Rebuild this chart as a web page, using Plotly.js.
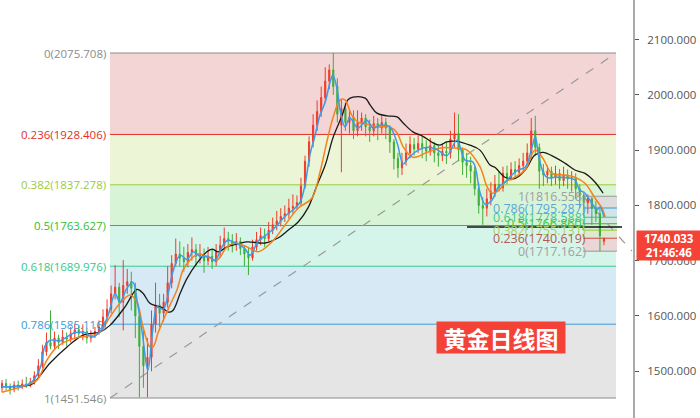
<!DOCTYPE html>
<html><head><meta charset="utf-8">
<script src="https://cdn.plot.ly/plotly-3.0.1.min.js"></script>
<style>html,body{margin:0;padding:0;background:#fff;}#chart{width:700px;height:418px;}</style>
</head><body><div id="chart"></div>
<script>
// ---------- DATA ----------
const openP = [1470,1478,1472,1468,1475,1471,1477,1474,1480,1492,1510,1535,1552,1545,1560,1552,1562,1558,1568,1575,
1568,1572,1560,1565,1572,1580,1598,1612,1640,1652,1625,1655,1662,1650,1600,1545,1510,1525,1585,1620,
1605,1625,1660,1695,1712,1705,1698,1715,1720,1708,1712,1700,1708,1698,1715,1728,1740,1735,1728,1735,
1722,1712,1705,1725,1738,1745,1740,1755,1765,1772,1780,1785,1795,1798,1805,1835,1880,1915,1945,1970,
1995,2025,2045,2015,1945,1975,1950,1960,1935,1950,1958,1942,1935,1948,1940,1950,1940,1915,1885,1868,
1880,1895,1910,1902,1912,1905,1898,1908,1895,1890,1898,1895,1920,1930,1900,1878,1872,1862,1830,1800,
1795,1812,1825,1838,1832,1858,1850,1865,1860,1872,1880,1895,1935,1905,1862,1855,1862,1850,1858,1845,
1855,1848,1850,1830,1818,1805,1812,1795,1785,1735];
const highP = [1484,1486,1478,1482,1483,1485,1490,1488,1500,1522,1548,1570,1610,1572,1566,1575,1570,1580,1586,1582,
1585,1578,1574,1580,1592,1612,1630,1655,1692,1660,1701,1685,1680,1660,1612,1580,1560,1610,1660,1640,
1640,1690,1710,1740,1735,1725,1730,1742,1730,1730,1722,1725,1720,1730,1745,1760,1752,1748,1750,1742,
1728,1725,1738,1752,1760,1758,1770,1778,1790,1795,1800,1812,1820,1818,1850,1890,1925,1965,1990,2015,
2050,2055,2075.708,2030,1992,1985,1975,1972,1972,1968,1965,1955,1962,1958,1962,1958,1945,1920,1895,1895,
1912,1925,1922,1930,1925,1918,1922,1915,1908,1912,1915,1935,1968,1965,1905,1895,1888,1870,1840,1815,
1830,1842,1855,1862,1870,1872,1878,1880,1885,1895,1912,1958,1962,1912,1875,1872,1870,1872,1866,1870,
1865,1862,1858,1838,1825,1820,1815,1808,1795,1742];
const lowP = [1462,1466,1458,1462,1465,1468,1470,1471,1476,1488,1505,1528,1540,1538,1540,1548,1545,1552,1560,1560,
1556,1550,1552,1560,1566,1575,1590,1605,1630,1598,1574,1640,1610,1560,1453,1470,1453,1500,1570,1580,
1590,1615,1650,1690,1690,1680,1688,1700,1690,1695,1678,1692,1685,1690,1705,1720,1718,1715,1718,1710,
1690,1674,1700,1718,1728,1725,1735,1748,1755,1762,1770,1776,1785,1792,1800,1830,1870,1905,1935,1960,
1985,2010,2000,1950,1860,1935,1930,1920,1925,1935,1925,1915,1925,1918,1930,1920,1895,1865,1850,1855,
1872,1885,1890,1895,1885,1880,1890,1878,1870,1880,1875,1885,1905,1880,1855,1850,1840,1818,1785,1765,
1780,1800,1815,1825,1825,1838,1845,1848,1852,1862,1870,1885,1890,1830,1835,1840,1835,1838,1830,1835,
1830,1825,1812,1795,1780,1785,1765,1770,1717.162,1728];
const closeP = [1478,1472,1468,1475,1471,1477,1474,1480,1492,1510,1535,1552,1545,1560,1552,1562,1558,1568,1575,1568,
1572,1560,1565,1572,1580,1598,1612,1640,1652,1625,1655,1662,1650,1600,1545,1510,1525,1585,1620,1605,
1625,1660,1695,1712,1705,1698,1715,1720,1708,1712,1700,1708,1698,1715,1728,1740,1735,1728,1735,1722,
1712,1705,1725,1738,1745,1740,1755,1765,1772,1780,1785,1795,1798,1805,1835,1880,1915,1945,1970,1995,
2025,2045,2015,1965,1975,1950,1960,1935,1950,1958,1942,1935,1948,1940,1950,1940,1915,1885,1868,1880,
1895,1910,1902,1912,1905,1898,1908,1895,1890,1898,1895,1920,1930,1900,1878,1872,1862,1830,1800,1795,
1812,1825,1838,1832,1858,1850,1865,1860,1872,1880,1895,1935,1905,1862,1855,1862,1850,1858,1845,1855,
1848,1850,1830,1818,1805,1812,1795,1785,1745,1740.033];

// moving averages (x in candle index units)
const ma5X = [0,6.9,9.4,10.6,11.9,14.4,15.6,18.1,20.5,22.3,24.3,26.2,28,29.2,30.9,32.4,33.4,34.7,36.1,37.4,38.4,39.9,40.8,42.3,44.1,45.8,47.3,49,51.5,52.7,54.5,55.9,58.4,60.1,61.4,63.4,65.1,67.6,70,72.5,73.8,75,76.2,77.5,78.7,80,81.2,81.9,82.9,83.7,84.9,86.1,88.1,90.3,91.8,93.6,96,97.8,99.3,100.5,103,105.4,107.9,110.1,112.6,114.6,116.6,118.3,119.6,121.3,122.8,124.5,126.2,127.7,129.5,131.2,132,132.7,134,135.1,136.9,140.1,141.8,143,144.3,146,147.3,148,149];
const ma5Y = [1472,1478,1505,1545,1556,1555,1560,1570,1570,1562,1572,1600,1640,1625,1650,1661,1629,1570,1502,1580,1616,1612,1629,1680,1710,1702,1716,1708,1706,1700,1725,1737,1730,1722,1710,1735,1745,1760,1780,1795,1806,1837,1891,1927,1963,1987,2023,2036,2012,1972,1942,1958,1940,1954,1940,1945,1942,1913,1875,1885,1900,1905,1900,1890,1918,1882,1878,1824,1802,1810,1833,1842,1855,1864,1869,1906,1924,1895,1859,1850,1851,1850,1846,1828,1822,1804,1792,1797,1779];
const ma10X = [0,2,6.2,8.7,11.1,13.6,16.1,19.3,21.8,24.3,26.7,29.2,31.7,33.4,34.9,36.6,37.4,38.6,39.9,41.6,43.3,44.8,46.5,48.5,50.7,53.2,55.7,57.7,60.6,63.4,66.8,70,73.3,76.7,78.7,80.4,81.9,83.7,84.9,86.6,88.6,90.6,92.8,96,97.8,99.3,101.7,105.2,108.4,111.6,115.1,118.3,120,121.3,123.3,124.5,127,129.5,131.9,133.9,136.1,139.4,141.8,144.3,146.8,148.5,149.3];
const ma10Y = [1462,1466,1475,1484,1520,1544,1555,1562,1564,1571,1598,1623,1638,1625,1580,1544,1544,1569,1592,1620,1647,1683,1701,1712,1708,1701,1725,1732,1725,1716,1734,1764,1795,1813,1860,1915,1958,1991,1991,1963,1949,1947,1942,1942,1931,1906,1887,1896,1904,1904,1900,1870,1835,1822,1830,1842,1851,1864,1900,1885,1858,1855,1851,1840,1813,1795,1779];
const ma30X = [0,6.2,7.7,11.9,16.1,20,24.3,26.7,30.4,33.4,34.9,36.6,38.4,39.9,41.1,42.3,44.1,45.8,48.3,50.7,52,53.5,55.7,57.2,60.6,65.1,68.3,70.8,73.3,75.7,78,80,81.9,84.2,85.6,86.9,89.9,91.1,92.8,95.3,97.8,99.3,101.7,104.2,106.7,108.4,110.1,112.6,115.8,118.3,120.8,122,124.5,127,129.5,131.9,133.9,136.9,139.4,141.8,144.3,146.8,148.8];
const ma30Y = [1472,1474,1478,1515,1544,1565,1571,1583,1616,1648,1641,1623,1618,1614,1607,1610,1641,1668,1696,1716,1721,1716,1725,1728,1734,1732,1741,1755,1770,1795,1837,1873,1922,1963,1991,1996,1994,1982,1967,1962,1960,1949,1933,1925,1913,1909,1915,1916,1909,1900,1873,1869,1851,1849,1864,1891,1896,1887,1876,1864,1858,1842,1822];

// Fibonacci retracements
const fibRatios = [0, 0.236, 0.382, 0.5, 0.618, 0.786, 1];
const fibPrices = [2075.708, 1928.406, 1837.278, 1763.627, 1689.976, 1585.116, 1451.546];
const smallFibRatios = [1, 0.786, 0.618, 0.5, 0.382, 0.236, 0];
const smallFibPrices = [1816.558, 1795.287, 1778.588, 1766.860, 1755.131, 1740.619, 1717.162];
const supportLevel = 1761;
const yTicks = [1500, 1600, 1700, 1800, 1900, 2000, 2100];
const lastPrice = 1740.033;
const lastTime = '21:46:46';
const chartTitle = '黄金日线图';

// ---------- STYLE / LAYOUT ----------
const W = 700, H = 418, MR = 66, PW = W - MR;
const P = v => v / PW; // pixel -> paper x
const lineColors = ['#8c8c8c', '#e0302a', '#9bcb3c', '#2fbf2f', '#33c98c', '#3a9ad8', '#8c8c8c'];
const bandColors = ['#f3d5d5', '#ecf5d6', '#d8f4d6', '#d6f5ea', '#d6e9f4', '#e5e5e5'];
const smallLineColors = ['#9a9a9a', '#3a9ad8', '#33c98c', '#2fbf2f', '#9bcb3c', '#d04a40', '#9a9a9a'];
const smallTextColors = ['#a0a0a0', '#5aa8dc', '#45c893', '#45c445', '#a9cf62', '#b45a55', '#a0a0a0'];
const smallBand = ['#dcdcdc', '#d2e3ea', '#d0e8dd', '#d5ead2', '#e0e8cf', '#ead6d6'];

const idx = closeP.map((_, i) => i);
const shapes = [];
const annotations = [];
const fx0 = P(110), fx1 = P(616);
for (let k = 0; k < fibPrices.length - 1; k++) {
  shapes.push({type:'rect', xref:'paper', yref:'y', x0:fx0, x1:fx1, y0:fibPrices[k+1], y1:fibPrices[k],
    fillcolor: bandColors[k], line:{width:0}, layer:'below'});
}
fibPrices.forEach((p, k) => {
  shapes.push({type:'line', xref:'paper', yref:'y', x0:fx0, x1:fx1, y0:p, y1:p,
    line:{color:lineColors[k], width:1}, layer:'below'});
  annotations.push({xref:'paper', yref:'y', x:P(108), y:p, xanchor:'right', yanchor:'middle',
    text: fibRatios[k] + '(' + p.toFixed(3) + ')', showarrow:false,
    font:{family:'Open Sans, sans-serif', size:11.5, color:lineColors[k]}});
});
shapes.push({type:'line', xref:'paper', yref:'y', x0:fx0, x1:fx1, y0:fibPrices[6], y1:fibPrices[0],
  line:{color:'#9a9a9a', width:1.2, dash:'dash'}, layer:'below'});

// small fib
const sx0 = P(583), sx1 = P(617);
for (let k = 0; k < smallFibPrices.length - 1; k++) {
  shapes.push({type:'rect', xref:'paper', yref:'y', x0:sx0, x1:sx1, y0:smallFibPrices[k+1], y1:smallFibPrices[k],
    fillcolor: smallBand[k], line:{width:0}, layer:'below'});
}
smallFibPrices.forEach((p, k) => {
  shapes.push({type:'line', xref:'paper', yref:'y', x0:sx0, x1:sx1, y0:p, y1:p,
    line:{color:smallLineColors[k], width:1}, layer:'below'});
  annotations.push({xref:'paper', yref:'y', x:P(588), y:p, xanchor:'right', yanchor:'middle',
    text: smallFibRatios[k] + '(' + p.toFixed(3) + ')', showarrow:false,
    font:{family:'Open Sans, sans-serif', size:12.5, color:smallTextColors[k]}});
});
shapes.push({type:'line', xref:'paper', yref:'y', x0:sx0, x1:P(632), y0:smallFibPrices[0], y1:smallFibPrices[6],
  line:{color:'#9a9a9a', width:1.2, dash:'dash'}, layer:'below'});
shapes.push({type:'line', xref:'paper', yref:'y', x0:P(467), x1:P(622), y0:supportLevel, y1:supportLevel,
  line:{color:'#111', width:1.5}, layer:'above'});
shapes.push({type:'line', xref:'paper', yref:'paper', x0:1, x1:1, y0:0, y1:1,
  line:{color:'#555', width:1}});

annotations.push({xref:'paper', yref:'y', x:P(636), y:lastPrice, xanchor:'left', yanchor:'middle', yshift:-7,
  text: lastPrice.toFixed(3) + '<br>' + lastTime, showarrow:false, align:'center',
  width:60, height:25, borderpad:2, bgcolor:'#f44336',
  font:{family:'Open Sans, sans-serif', size:11.5, color:'#fff', weight:'bold'}});
annotations.push({xref:'paper', yref:'paper', x:P(501), y:1 - 337.5/H, xanchor:'center', yanchor:'middle',
  text: chartTitle, showarrow:false, width:124, height:27, borderpad:2, bgcolor:'#f44336',
  font:{family:'Noto Sans CJK SC, sans-serif', size:23, color:'#fff', weight:'bold'}});

const traces = [
  {type:'candlestick', x:idx, open:openP, high:highP, low:lowP, close:closeP,
   increasing:{line:{color:'#f23a2a', width:1}, fillcolor:'#f23a2a'},
   decreasing:{line:{color:'#3fae3a', width:1}, fillcolor:'#3fae3a'},
   whiskerwidth:0, hoverinfo:'skip'},
  {type:'scatter', mode:'lines', x:ma30X, y:ma30Y, line:{color:'#1a1a1a', width:1.3, shape:'spline'}, hoverinfo:'skip'},
  {type:'scatter', mode:'lines', x:ma10X, y:ma10Y, line:{color:'#f5811f', width:1.5, shape:'spline'}, hoverinfo:'skip'},
  {type:'scatter', mode:'lines', x:ma5X, y:ma5Y, line:{color:'#3d9be9', width:1.5, shape:'spline'}, hoverinfo:'skip'}
];

const layout = {
  width: W, height: H, margin:{l:0, r:MR, t:0, b:0},
  paper_bgcolor:'#fff', plot_bgcolor:'#fff', showlegend:false, boxgap:0.6,
  xaxis:{range:[-0.5, PW/4.04 - 0.5], showticklabels:false, showgrid:false, zeroline:false,
         rangeslider:{visible:false}, fixedrange:true},
  yaxis:{side:'right', range:[1415.4, 2171.6], tickvals:yTicks, tickformat:'.3f', ticks:'outside',
         ticklen:4, tickcolor:'#555', showline:false, showgrid:false, zeroline:false, ticklabelstandoff:6,
         tickfont:{family:'Open Sans, sans-serif', size:11.5, color:'#555'}, fixedrange:true},
  shapes: shapes, annotations: annotations
};
Plotly.newPlot('chart', traces, layout, {staticPlot:true, displayModeBar:false});
</script></body></html>
